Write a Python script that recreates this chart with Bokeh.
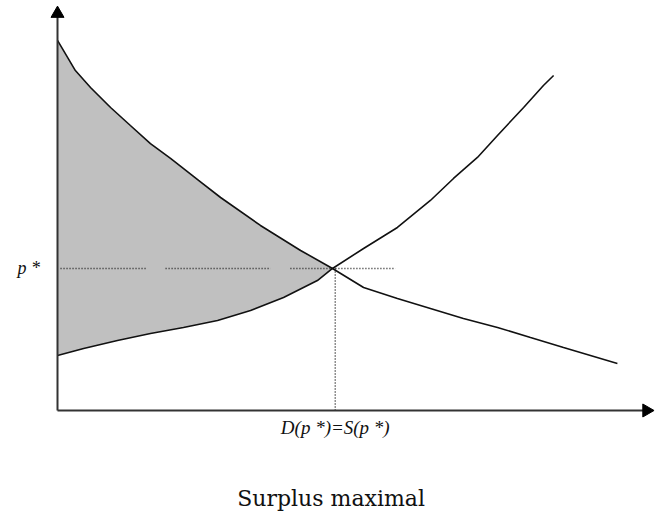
from bokeh.plotting import figure
from bokeh.models import Range1d
from bokeh.core.properties import value
from bokeh.embed import file_html
from bokeh.resources import INLINE

# ---- data (quantity, price) ----
demand_q = [0.0, 0.65, 1.2, 1.93, 2.65, 3.38, 4.11, 5.13, 5.93, 7.38, 8.84, 10.0,
            11.13, 12.36, 13.56, 14.76, 16.0, 17.2, 18.4, 20.36]
demand_p = [26.06, 23.94, 22.75, 21.34, 20.07, 18.80, 17.75, 16.20, 15.0, 13.03, 11.27, 10.0,
            8.66, 7.89, 7.18, 6.48, 5.85, 5.14, 4.44, 3.31]
supply_q = [0.0, 0.95, 2.18, 3.38, 4.58, 5.82, 7.02, 8.22, 9.45, 10.0,
            11.13, 12.36, 13.56, 14.4, 15.27, 16.0, 16.95, 17.67, 18.04]
supply_p = [3.87, 4.37, 4.93, 5.42, 5.85, 6.34, 7.04, 7.96, 9.15, 10.0,
            11.41, 12.89, 14.79, 16.34, 17.82, 19.37, 21.34, 22.89, 23.59]
q_star = 10.0
p_star = 10.0
guide_starts = [0.11, 3.93, 8.47]
guide_ends = [3.27, 7.75, 12.29]
x_axis_end = 21.64
y_axis_end = 28.4
p_label = "p *"
q_label = "D(p *)=S(p *)"
title = "Surplus maximal"

p = figure(width=662, height=513, output_backend="svg", toolbar_location=None,
           x_range=Range1d(-2.073, 22.0), y_range=Range1d(-7.254, 28.873),
           min_border=0, outline_line_color=None)
p.axis.visible = False
p.grid.visible = False

# consumer + producer surplus area
dq = [q for q in demand_q if q <= q_star]
dp = demand_p[:len(dq)]
sq = [q for q in supply_q if q <= q_star]
sp = supply_p[:len(sq)]
p.patch(dq + sq[::-1], dp + sp[::-1], fill_color="#c0c0c0", line_color=None)

# dotted guides
p.segment(x0=guide_starts, y0=[p_star] * 3, x1=guide_ends, y1=[p_star] * 3,
          line_color="#222222", line_width=1.5, line_dash="1 2")
p.segment(x0=[q_star + 0.1], y0=[p_star], x1=[q_star + 0.1], y1=[0],
          line_color="#222222", line_width=1.5, line_dash="1 2")

# curves
p.line(demand_q, demand_p, line_color="#111111", line_width=1.6)
p.line(supply_q, supply_p, line_color="#111111", line_width=1.6)

# axes with arrows
p.segment(x0=[0, 0], y0=[0, 0], x1=[x_axis_end - 0.3, 0], y1=[0, y_axis_end - 0.5],
          line_color="#333333", line_width=2)
p.triangle(x=[0], y=[y_axis_end - 0.45], size=13, fill_color="black", line_color="black")
p.triangle(x=[x_axis_end - 0.22], y=[0], size=13, angle=-1.5708,
           fill_color="black", line_color="black")

# labels
p.text(x=[-1.05], y=[p_star], text=[p_label], text_align="center", text_baseline="middle",
       text_font=value("Liberation Serif"), text_font_style="italic",
       text_font_size="18px", text_color="#111111")
p.text(x=[q_star + 0.1], y=[-0.45], text=[q_label], text_align="center", text_baseline="top",
       text_font=value("Liberation Serif"), text_font_style="italic",
       text_font_size="19px", text_color="#111111")
p.text(x=[9.95], y=[-6.2], text=[title], text_align="center", text_baseline="alphabetic",
       text_font=value("DejaVu Serif"), text_font_size="22px", text_color="#111111")

open("out.html", "w").write(file_html(p, INLINE))
